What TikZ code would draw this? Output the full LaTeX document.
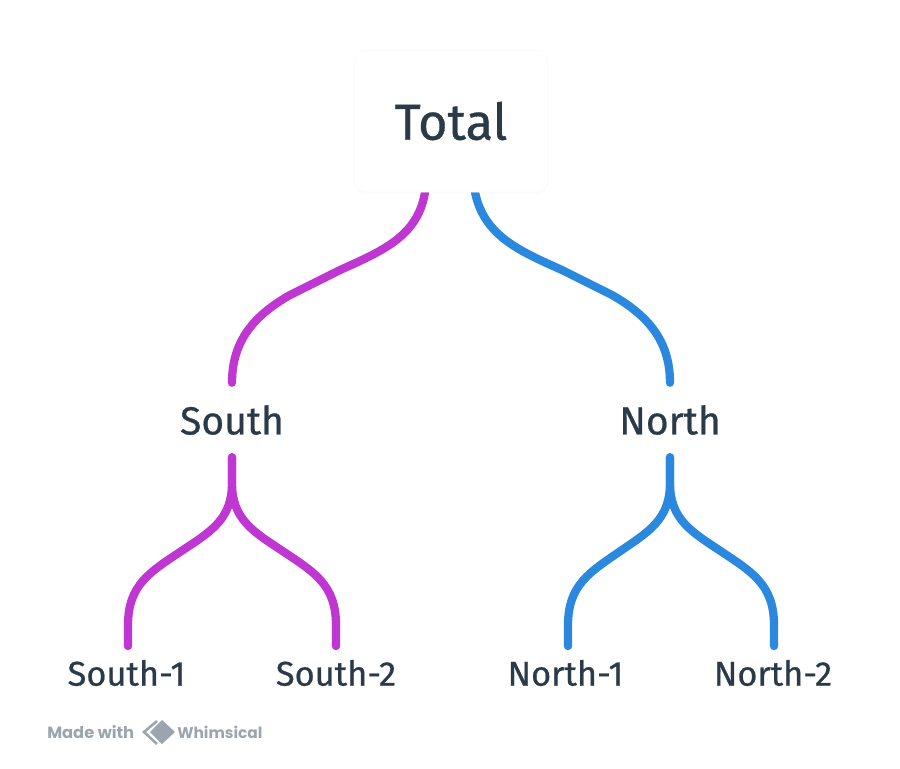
\documentclass[tikz,border=0pt]{standalone}
\usepackage{fontspec}
\setmainfont{Fira Sans}[FakeBold=0.6]
\newfontfamily\logofont{Poppins}
\usetikzlibrary{shadows,backgrounds}
\definecolor{inktext}{HTML}{2A3A49}
\definecolor{southline}{HTML}{BF36D2}
\definecolor{northline}{HTML}{2B88DF}
\definecolor{logogray}{HTML}{9AA5AF}
\tikzset{
  rootbox/.style={fill=white,draw=black!2,rounded corners=9pt,minimum width=145.5pt,minimum height=106.5pt,
    text=inktext,font=\fontsize{38pt}{38pt}\selectfont,
    drop shadow={opacity=0.02,shadow xshift=0pt,shadow yshift=-2pt}},
  midlabel/.style={text=inktext,font=\fontsize{29.3pt}{29.3pt}\selectfont,minimum height=55.5pt,inner sep=0pt},
  leaflabel/.style={text=inktext,font=\fontsize{25.8pt}{25.8pt}\selectfont,minimum height=40pt,inner sep=0pt},
  branch/.style={line width=6.2pt,line cap=round},
  logotext/.style={text=logogray,inner sep=0pt}
}
\begin{document}
\begin{tikzpicture}[x=0.75pt,y=-0.75pt]
\useasboundingbox (0,0) rectangle (900,768);

\node[rootbox] (total) at (451,121) {Total};
\node[midlabel] (south) at (232,420) {South};
\node[midlabel] (north) at (670,420) {North};
\node[leaflabel] (south1) at (126.5,673) {South-1};
\node[leaflabel] (south2) at (336,673) {South-2};
\node[leaflabel] (north1) at (565.5,673) {North-1};
\node[leaflabel] (north2) at (773,673) {North-2};

% top level
\begin{scope}[on background layer]
\draw[branch,southline] ([xshift=-19.5pt]total.south) .. controls (418,235) and (385,250) .. (340,270)
  -- (290,295) .. controls (255,315) and (232,340) .. (south.north);
\draw[branch,northline] ([xshift=18pt]total.south) .. controls (484,235) and (517,250) .. (562,270)
  -- (612,295) .. controls (647,315) and (670,340) .. (north.north);
\end{scope}

% south side
\draw[branch,southline] (south.south) -- (232,483) .. controls (232,520) and (210,532) .. (180,552)
  .. controls (150,572) and (128,585) .. (128,625) -- ([xshift=1.1pt]south1.north);
\draw[branch,southline] (south.south) -- (232,483) .. controls (232,520) and (254,532) .. (284,552)
  .. controls (314,572) and (336,585) .. (336,625) -- (south2.north);

% north side
\draw[branch,northline] (north.south) -- (670,483) .. controls (670,520) and (648,532) .. (619,552)
  .. controls (590,572) and (568,585) .. (568,625) -- ([xshift=1.9pt]north1.north);
\draw[branch,northline] (north.south) -- (670,483) .. controls (670,520) and (692,532) .. (722,552)
  .. controls (752,572) and (774,585) .. (774,625) -- ([xshift=0.75pt]north2.north);

% footer
\node[logotext,anchor=west,font=\logofont\bfseries\fontsize{12.2pt}{12.2pt}\selectfont] (madewith) at (47,732) {Made with};
\node[logotext,anchor=west,font=\logofont\bfseries\fontsize{11.6pt}{11.6pt}\selectfont] (whimsical) at (177,732) {Whimsical};
\draw[logogray,line width=1.9pt] (157,721) -- (144,732) -- (157,744);
\fill[logogray] (162,720) -- (175,732) -- (162,744) -- (150,732) -- cycle;
\end{tikzpicture}
\end{document}
